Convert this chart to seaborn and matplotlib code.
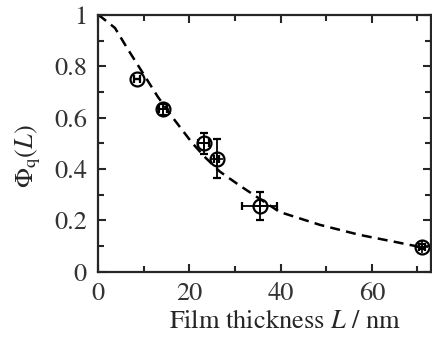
import numpy as np
import pandas as pd
import matplotlib
matplotlib.use("Agg")
import matplotlib.pyplot as plt
from matplotlib.ticker import MultipleLocator
import seaborn as sns

# measured points
thickness = [8.5, 14.2, 23.2, 26.0, 35.4, 71.0]
phi_q = [0.751, 0.632, 0.50, 0.44, 0.255, 0.097]
phi_err = [0.0, 0.02, 0.04, 0.075, 0.055, 0.01]
thick_err = [0.6, 0.8, 1.2, 0.6, 3.8, 0.6]

# dashed model curve
curve_L = [0.0, 0.8, 3.7, 6.6, 9.8, 13.1, 16.8, 20.6, 23.5, 26.7, 31.1, 39.8, 48.6, 57.3, 66.1, 70.5]
curve_phi = [1.0, 0.99, 0.949, 0.864, 0.774, 0.681, 0.59, 0.502, 0.445, 0.39, 0.335, 0.233, 0.183, 0.144, 0.113, 0.097]

sns.set_theme(style="ticks")
plt.rcParams["font.family"] = "serif"
plt.rcParams["font.serif"] = ["STIXGeneral", "Liberation Serif", "DejaVu Serif"]
plt.rcParams["mathtext.fontset"] = "stix"

fig = plt.figure(figsize=(4.32, 3.45), dpi=100)
ax = fig.add_axes([0.227, 0.212, 0.771, 0.745])

curve = pd.DataFrame({"L": curve_L, "phi": curve_phi})
sns.lineplot(data=curve, x="L", y="phi", ax=ax, color="black", lw=1.8,
             linestyle=(0, (4, 2.5)), legend=False)

ax.errorbar(thickness, phi_q, yerr=phi_err, xerr=thick_err, fmt="o",
            mfc="none", mec="black", ms=10, mew=1.6, ecolor="black",
            elinewidth=1.3, capsize=3, capthick=1.3)
# crosshair inside the circles
ax.errorbar(thickness[1:], phi_q[1:], fmt="+", color="black", ms=9, mew=1.2)

ax.set_xlim(0, 73)
ax.set_ylim(0, 1)
ax.xaxis.set_minor_locator(MultipleLocator(10))
ax.yaxis.set_minor_locator(MultipleLocator(0.1))
ax.set_xticks([0, 20, 40, 60], labels=["0", "20", "40", "60"])
ax.set_yticks([0, 0.2, 0.4, 0.6, 0.8, 1.0], labels=["0", "0.2", "0.4", "0.6", "0.8", "1"])

for s in ax.spines.values():
    s.set_linewidth(1.6)
    s.set_visible(True)
ax.tick_params(which="both", direction="in", top=True, right=True, width=1.5,
               labelsize=19, labelcolor="#333333")
ax.tick_params(axis="x", pad=7)
ax.tick_params(axis="y", pad=8)
ax.tick_params(which="major", length=6)
ax.tick_params(which="minor", length=4)

ax.set_xlabel("Film thickness $L$ / nm", fontsize=19, labelpad=3, x=0.56)
ax.set_ylabel(r"$\Phi_{\rm q}(L)$", fontsize=19, labelpad=8, y=0.45)

fig.savefig("out.png", dpi=100)
